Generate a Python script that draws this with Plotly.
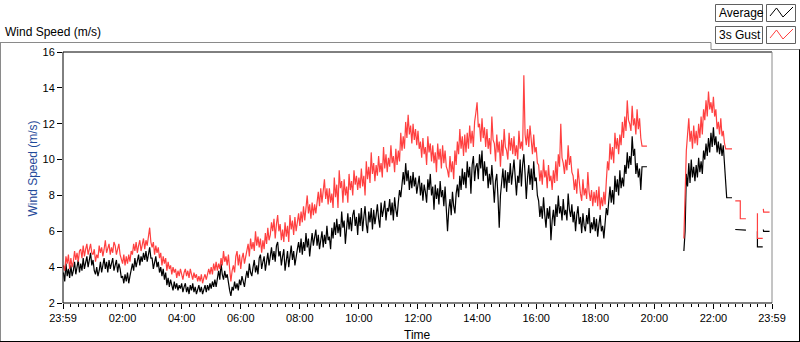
import plotly.graph_objects as go

# ---------------- data (2.5-minute samples, hours after midnight) ----------------
avg = [
    # 00
    3.7, 3.2, 4.2, 3.5, 3.9, 3.4, 4.1, 3.5, 3.8, 4.3, 3.6, 4.0,
    4.4, 3.7, 4.2, 3.8, 4.5, 3.9, 4.3, 4.6, 4.0, 4.4, 4.8, 4.1,
    # 01
    4.4, 3.8, 3.6, 4.0, 3.5, 3.8, 4.3, 3.7, 4.2, 4.5, 3.9, 4.3,
    3.7, 4.4, 3.9, 4.2, 4.5, 3.8, 4.1, 4.4, 3.7, 4.2, 3.9, 3.4,
    # 02
    3.5, 3.1, 3.6, 3.2, 3.7, 3.1, 3.5, 3.9, 4.2, 3.8, 4.5, 4.0,
    4.4, 4.7, 4.1, 4.6, 4.3, 4.8, 4.4, 4.9, 4.3, 4.7, 5.1, 4.5,
    # 03
    4.5, 3.9, 4.3, 4.6, 4.0, 4.3, 3.7, 4.0, 3.5, 3.9, 3.3, 3.7,
    3.0, 3.4, 2.9, 3.3, 3.0, 2.7, 3.2, 2.8, 3.1, 2.7, 3.0, 2.8,
    # 04
    3.1, 2.6, 2.9, 3.1, 2.6, 2.9, 2.5, 3.0, 2.7, 3.1, 2.6, 2.9,
    2.5, 2.8, 3.0, 2.6, 2.9, 2.5, 2.8, 3.0, 2.6, 3.0, 2.7, 3.1,
    # 05
    2.8, 3.2, 2.9, 3.3, 2.9, 3.5, 3.8, 3.3, 4.2, 3.6, 3.3, 3.8,
    3.4, 3.6, 3.0, 2.7, 2.4, 2.9, 2.7, 3.2, 2.8, 3.1, 2.7, 3.3,
    # 06
    3.0, 3.5, 3.2, 2.9, 3.4, 3.8, 3.4, 4.2, 3.7, 3.5, 4.0, 4.4,
    3.7, 4.1, 3.6, 4.5, 4.7, 3.9, 4.3, 4.6, 3.8, 4.2, 4.8, 4.1,
    # 07
    4.6, 5.1, 4.4, 4.9, 4.3, 5.2, 5.4, 4.6, 4.9, 4.1, 4.6, 5.0,
    3.8, 4.5, 4.9, 4.0, 4.6, 5.2, 4.4, 4.9, 4.1, 4.7, 5.0, 5.4,
    # 08
    4.8, 5.6, 4.7, 5.4, 4.9, 5.9, 5.1, 5.6, 4.6, 5.3, 5.9, 5.2,
    5.7, 6.1, 5.2, 5.8, 5.0, 5.6, 6.0, 5.1, 5.8, 5.3, 6.3, 5.5,
    # 09
    5.7, 5.0, 6.2, 5.6, 6.5, 5.8, 6.7, 5.9, 6.4, 5.7, 7.1, 6.2,
    6.6, 5.3, 6.4, 7.0, 6.1, 6.8, 6.0, 6.9, 7.2, 6.3, 6.8, 5.8,
    # 10
    7.0, 6.3, 7.3, 6.0, 6.8, 7.4, 6.4, 5.9, 7.1, 6.5, 7.3, 6.1,
    7.2, 6.4, 6.9, 7.5, 6.7, 6.2, 7.6, 6.8, 7.2, 7.7, 6.6, 7.3,
    # 11
    7.1, 7.8, 6.9, 7.6, 6.6, 7.9, 7.2, 6.8, 7.6, 8.3, 7.9, 8.7,
    9.3, 8.6, 9.8, 8.8, 9.4, 8.3, 9.1, 8.4, 9.3, 8.5, 9.0, 8.1,
    # 12
    8.6, 9.1, 8.0, 8.7, 7.7, 8.6, 8.2, 7.6, 8.9, 8.3, 9.2, 8.0,
    8.5, 7.2, 8.6, 7.8, 8.4, 7.5, 8.8, 7.9, 8.3, 7.4, 8.5, 7.3,
    # 13
    6.0, 7.2, 7.8, 6.9, 8.2, 7.4, 7.0, 8.1, 8.6, 7.9, 9.1, 8.3,
    9.5, 8.6, 9.3, 8.4, 9.9, 9.0, 9.6, 8.1, 9.7, 10.2, 8.8, 9.6,
    # 14
    9.8, 8.9, 10.3, 9.5, 10.5, 8.8, 9.9, 9.1, 9.6, 8.4, 9.2, 8.6,
    9.7, 8.7, 7.6, 8.8, 9.2, 7.9, 6.2, 8.0, 8.9, 9.5, 8.4, 9.4,
    # 15
    8.2, 9.3, 8.7, 9.8, 8.6, 9.6, 10.0, 9.0, 8.0, 9.1, 8.7, 10.0,
    8.5, 9.7, 10.3, 9.2, 7.8, 9.0, 9.7, 8.6, 9.5, 8.3, 9.9, 8.8,
    # 16
    9.0, 8.0, 7.7, 6.8, 7.4, 6.7, 7.9, 6.9, 6.2, 7.3, 6.7, 7.4,
    5.5, 6.6, 7.2, 6.3, 7.5, 6.8, 8.0, 7.0, 7.4, 6.6, 7.8, 6.9,
    # 17
    7.2, 6.6, 8.1, 7.2, 6.8, 7.5, 6.5, 7.1, 6.0, 6.9, 7.4, 6.4,
    6.8, 5.9, 7.0, 6.3, 6.0, 6.9, 6.4, 7.3, 5.9, 6.5, 6.1, 6.8,
    # 18
    6.0, 6.7, 5.7, 6.4, 6.9, 6.0, 6.3, 5.6, 6.8, 7.3, 6.9, 7.9,
    8.5, 7.6, 8.3, 7.5, 9.1, 8.2, 8.9, 8.0, 9.4, 8.4, 9.0, 8.5,
    # 19
    9.7, 9.2, 10.4, 9.5, 10.2, 9.7, 11.3, 10.2, 10.6, 9.2, 9.8, 9.0,
    9.5, 8.3, 9.6, 9.6, 9.6, 9.6, 9.6, None, None, None, None, None,
    # 20
    None, None, None, None, None, None, None, None, None, None, None, None,
    None, None, None, None, None, None, None, None, None, None, None, None,
    # 21
    4.9, 6.0, 9.2, 8.5, 9.8, 8.7, 10.0, 9.0, 9.6, 8.8, 9.7, 9.0,
    10.1, 9.3, 9.9, 9.2, 10.5, 10.0, 10.9, 10.2, 11.2, 10.4, 11.5, 10.7,
    # 22
    11.8, 10.8, 11.3, 10.4, 11.0, 10.3, 10.9, 10.2, 10.8, 9.9, 9.0,
]

gust = [
    # 00
    4.1, 3.8, 4.6, 4.2, 4.7, 3.9, 4.5, 4.0, 4.3, 4.9, 4.4, 4.8,
    4.3, 4.9, 5.0, 4.5, 5.2, 4.6, 5.0, 5.3, 4.7, 5.1, 5.3, 4.8,
    # 01
    4.7, 5.0, 4.3, 4.7, 4.5, 5.2, 4.8, 5.1, 4.6, 5.0, 5.5, 4.8,
    5.1, 5.3, 4.7, 5.1, 4.8, 5.4, 5.2, 4.7, 5.0, 5.3, 4.7, 4.5,
    # 02
    4.2, 4.7, 4.1, 4.6, 4.2, 4.7, 4.3, 4.9, 4.7, 5.3, 4.9, 5.4,
    4.8, 5.2, 5.5, 4.9, 5.3, 5.6, 5.0, 5.5, 5.2, 5.8, 6.2, 5.4,
    # 03
    5.1, 5.4, 4.7, 5.2, 4.8, 5.1, 4.5, 4.8, 4.1, 4.6, 4.2, 4.5,
    3.8, 4.3, 3.9, 4.1, 3.6, 4.0, 3.7, 3.9, 3.4, 3.8, 3.5, 3.9,
    # 04
    3.6, 3.3, 3.7, 3.9, 3.5, 3.8, 3.4, 3.9, 3.6, 3.3, 3.7, 3.4,
    3.6, 3.2, 3.5, 3.2, 3.6, 3.1, 3.4, 3.6, 3.3, 3.7, 3.9, 3.6,
    # 05
    4.0, 3.6, 4.2, 3.8, 4.3, 3.8, 4.2, 3.9, 4.5, 4.1, 4.9, 4.3,
    4.6, 4.1, 4.7, 3.9, 3.2, 3.8, 4.1, 3.7, 4.6, 4.9, 4.1, 4.7,
    # 06
    3.9, 4.5, 4.8, 4.2, 4.6, 4.9, 5.3, 4.6, 5.6, 5.0, 5.4, 4.9,
    6.0, 5.2, 5.7, 5.1, 5.6, 4.8, 5.5, 5.0, 5.9, 5.3, 6.2, 5.5,
    # 07
    5.8, 6.5, 6.0, 6.7, 5.6, 6.4, 6.9, 6.0, 6.4, 5.5, 6.1, 5.4,
    6.5, 5.7, 6.3, 5.4, 6.9, 6.1, 6.6, 5.8, 6.8, 6.0, 6.5, 7.0,
    # 08
    6.3, 7.1, 6.5, 7.4, 6.6, 7.2, 8.0, 7.0, 7.5, 6.7, 7.6, 6.9,
    7.5, 7.0, 7.8, 8.2, 7.4, 8.4, 7.6, 8.1, 8.9, 7.8, 8.4, 7.5,
    # 09
    8.4, 7.6, 8.1, 7.3, 9.0, 7.9, 8.6, 7.3, 9.4, 8.4, 8.8, 7.6,
    8.9, 8.0, 8.5, 7.6, 9.2, 8.3, 8.8, 8.0, 9.4, 8.6, 9.1, 8.3,
    # 10
    9.0, 8.4, 9.5, 8.5, 9.1, 8.0, 9.9, 8.9, 9.6, 8.7, 10.4, 9.2,
    9.8, 8.8, 9.7, 9.1, 10.2, 9.3, 9.8, 9.0, 10.7, 9.5, 10.3, 9.3,
    # 11
    10.1, 9.6, 10.8, 9.8, 10.2, 9.3, 10.6, 9.7, 10.5, 9.9, 11.5, 10.5,
    11.3, 10.6, 12.1, 11.2, 12.5, 11.4, 11.9, 10.9, 12.0, 11.1, 11.7, 10.8,
    # 12
    11.6, 10.6, 11.0, 10.1, 11.2, 10.3, 10.7, 9.7, 11.3, 10.4, 10.9, 9.9,
    10.8, 9.8, 10.4, 9.3, 10.9, 10.0, 10.6, 9.5, 10.8, 9.8, 10.5, 9.6,
    # 13
    9.4, 9.0, 10.2, 9.3, 9.9, 8.9, 10.5, 9.7, 11.0, 10.3, 11.7, 10.6,
    11.3, 10.2, 11.4, 10.4, 11.5, 10.6, 11.9, 10.9, 11.6, 10.7, 12.1, 12.6,
    # 14
    13.2, 11.8, 12.0, 11.0, 12.3, 11.2, 11.8, 10.7, 11.7, 10.6, 11.2, 10.3,
    12.4, 11.1, 10.9, 9.9, 11.4, 10.4, 11.0, 9.6, 11.1, 10.2, 11.7, 10.7,
    # 15
    10.5, 10.0, 11.5, 10.5, 11.2, 10.3, 11.3, 10.2, 10.8, 10.0, 11.6, 10.6,
    11.0, 10.5, 14.7, 11.4, 10.8, 11.7, 10.7, 11.9, 10.9, 10.3, 11.4, 10.4,
    # 16
    10.7, 9.8, 9.7, 8.8, 9.4, 8.6, 10.0, 9.0, 9.4, 8.4, 9.7, 8.8,
    9.1, 8.3, 9.4, 8.7, 9.9, 8.8, 10.3, 9.6, 12.0, 10.1, 9.8, 9.2,
    # 17
    10.0, 9.4, 10.8, 9.7, 10.2, 9.3, 9.1, 8.3, 8.9, 8.1, 9.5, 8.5,
    8.1, 7.7, 8.9, 8.0, 8.4, 7.8, 9.3, 8.2, 7.7, 8.3, 7.4, 8.2,
    # 18
    7.6, 8.3, 7.4, 8.5, 7.2, 7.9, 7.4, 8.2, 7.5, 8.8, 9.9, 9.4,
    10.9, 10.0, 10.7, 9.8, 11.5, 10.6, 11.2, 10.3, 11.4, 10.8, 12.1, 11.2,
    # 19
    12.4, 11.6, 13.3, 12.2, 12.0, 11.6, 13.0, 11.9, 12.3, 11.4, 12.8, 11.7,
    12.3, 11.2, 10.75, 10.75, 10.75, 10.75, 10.75, None, None, None, None, None,
    # 20
    None, None, None, None, None, None, None, None, None, None, None, None,
    None, None, None, None, None, None, None, None, None, None, None, None,
    # 21
    5.6, 8.0, 10.5, 11.4, 12.3, 11.0, 11.6, 10.6, 11.9, 10.9, 11.6, 10.8,
    12.0, 11.2, 12.4, 11.4, 12.8, 12.2, 13.3, 12.4, 13.8, 12.8, 13.2, 12.6,
    # 22
    13.5, 12.4, 12.8, 11.7, 12.1, 11.4, 12.3, 11.3, 11.6, 10.9, 10.6,
]

# sparse logged readings at the end of the day (hours, values)
tail_time = [22.45, 22.63, 22.68, 22.74, 22.91, 22.91, 23.10, 23.30,
             23.49, 23.49, 23.67, 23.675, 23.69, 23.70, 23.90]
tail_avg = [7.87, 7.87, None, 6.10, 6.10, 6.06, 6.06, None,
            6.0, 5.13, 5.13, None, 6.10, 6.0, 6.0]
tail_gust = [10.6, 10.6, None, 7.7, 7.7, 6.7, 6.7, None,
             7.0, 5.6, 5.6, None, 7.25, 7.07, 7.07]

tick_vals = [-1 / 60, 2, 4, 6, 8, 10, 12, 14, 16, 18, 20, 22, 24 - 1 / 60]
tick_text = ["23:59", "02:00", "04:00", "06:00", "08:00", "10:00", "12:00",
             "14:00", "16:00", "18:00", "20:00", "22:00", "23:59"]
y_ticks = [2, 4, 6, 8, 10, 12, 14, 16]

series_names = ["Average", "3s Gust"]
series_colors = ["#000000", "#FF4040"]

# ---------------- figure ----------------
times = [k / 24 for k in range(len(avg))]
x_all = times + tail_time

W, H = 800, 342
L, R, T, B = 63, 772, 52, 303
FONT = "Liberation Sans, Arial, sans-serif"


def fx(px):
    return (px - L) / (R - L)


def fy(py):
    return (B - py) / (B - T)


fig = go.Figure()
fig.add_trace(go.Scatter(x=x_all, y=avg + tail_avg, mode="lines",
                         line=dict(color=series_colors[0], width=1.2),
                         connectgaps=False, name=series_names[0], hoverinfo="skip"))
fig.add_trace(go.Scatter(x=x_all, y=gust + tail_gust, mode="lines",
                         line=dict(color=series_colors[1], width=1.2),
                         connectgaps=False, name=series_names[1], hoverinfo="skip"))

minor_vals = [q / 4 for q in range(1, 96) if q % 8 != 0]

fig.update_layout(
    width=W, height=H,
    margin=dict(l=L, r=W - R, t=T, b=H - B),
    paper_bgcolor="white", plot_bgcolor="white",
    showlegend=False,
    font=dict(family=FONT, size=11, color="#000000"),
    xaxis=dict(range=[-1 / 60, 24 - 1 / 60], tickmode="array",
               tickvals=tick_vals, ticktext=tick_text,
               ticks="outside", ticklen=5, tickcolor="#000000", tickwidth=1,
               showgrid=False, zeroline=False, showline=False,
               tickfont=dict(family=FONT, size=11, color="#000000"),
               minor=dict(tickmode="array", tickvals=minor_vals, ticks="outside",
                          ticklen=3, tickcolor="#000000", tickwidth=1, showgrid=False)),
    yaxis=dict(range=[2, 16], tickmode="array", tickvals=y_ticks,
               ticks="outside", ticklen=5, tickcolor="#000000", tickwidth=1,
               showgrid=False, zeroline=False, showline=False,
               tickfont=dict(family=FONT, size=11, color="#000000")),
)

shapes = []


def hline(x0, x1, y, color, w=1):
    shapes.append(dict(type="line", xref="paper", yref="paper",
                       x0=fx(x0), x1=fx(x1), y0=fy(y), y1=fy(y),
                       line=dict(color=color, width=w)))


def vline(x, y0, y1, color, w=1):
    shapes.append(dict(type="line", xref="paper", yref="paper",
                       x0=fx(x), x1=fx(x), y0=fy(y0), y1=fy(y1),
                       line=dict(color=color, width=w)))


# outer panel frame
hline(0, 711, 42.5, "#8a8a8a")
vline(711, 42.5, 49.5, "#8a8a8a")
hline(711, 800, 49.5, "#8a8a8a")
vline(0.5, 42.5, 342, "#8a8a8a")
hline(0, 800, 341.5, "#000000")
vline(799.5, 49.5, 342, "#000000")
# plot frame
hline(L, R, T, "#000000")
vline(L, T, B, "#000000")
vline(R, T, B, "#8a8a8a")
hline(L, R, B, "#000000")

# legend boxes
legend_rows = [4, 26]
for i, top in enumerate(legend_rows):
    shapes.append(dict(type="rect", xref="paper", yref="paper",
                       x0=fx(715.5), x1=fx(762.5), y0=fy(top + 0.5), y1=fy(top + 17.5),
                       line=dict(color="#606060", width=1), fillcolor="white"))
    shapes.append(dict(type="rect", xref="paper", yref="paper",
                       x0=fx(766.5), x1=fx(795.5), y0=fy(top + 0.5), y1=fy(top + 17.5),
                       line=dict(color="#606060", width=1), fillcolor="white"))
    pts = [(770, top + 12), (776.5, top + 4), (783, top + 13), (793, top + 3)]
    path = "M " + " L ".join(f"{fx(a):.5f},{fy(b):.5f}" for a, b in pts)
    shapes.append(dict(type="path", xref="paper", yref="paper", path=path,
                       line=dict(color=series_colors[i], width=1)))

annotations = [
    dict(text="Wind Speed (m/s)", xref="paper", yref="paper", x=fx(3), y=fy(32),
         xanchor="left", yanchor="middle", showarrow=False,
         font=dict(family=FONT, size=12, color="#000000")),
    dict(text="Wind Speed (m/s)", xref="paper", yref="paper", x=fx(32), y=fy(168.5),
         xanchor="center", yanchor="middle", textangle=-90, showarrow=False,
         font=dict(family=FONT, size=12, color="#1f4a9a")),
    dict(text="Time", xref="paper", yref="paper", x=fx(417.5), y=fy(334.5),
         xanchor="center", yanchor="middle", showarrow=False,
         font=dict(family=FONT, size=12, color="#000000")),
]
for i, top in enumerate(legend_rows):
    annotations.append(dict(text=series_names[i], xref="paper", yref="paper",
                            x=fx(717), y=fy(top + 9), xanchor="left", yanchor="middle",
                            showarrow=False,
                            font=dict(family=FONT, size=12, color="#000000")))

fig.update_layout(shapes=shapes, annotations=annotations)
fig.write_html("out.html",
               config={"displayModeBar": False, "staticPlot": True},
               post_script="document.body.style.margin='0';"
                           "document.body.style.overflow='hidden';")
